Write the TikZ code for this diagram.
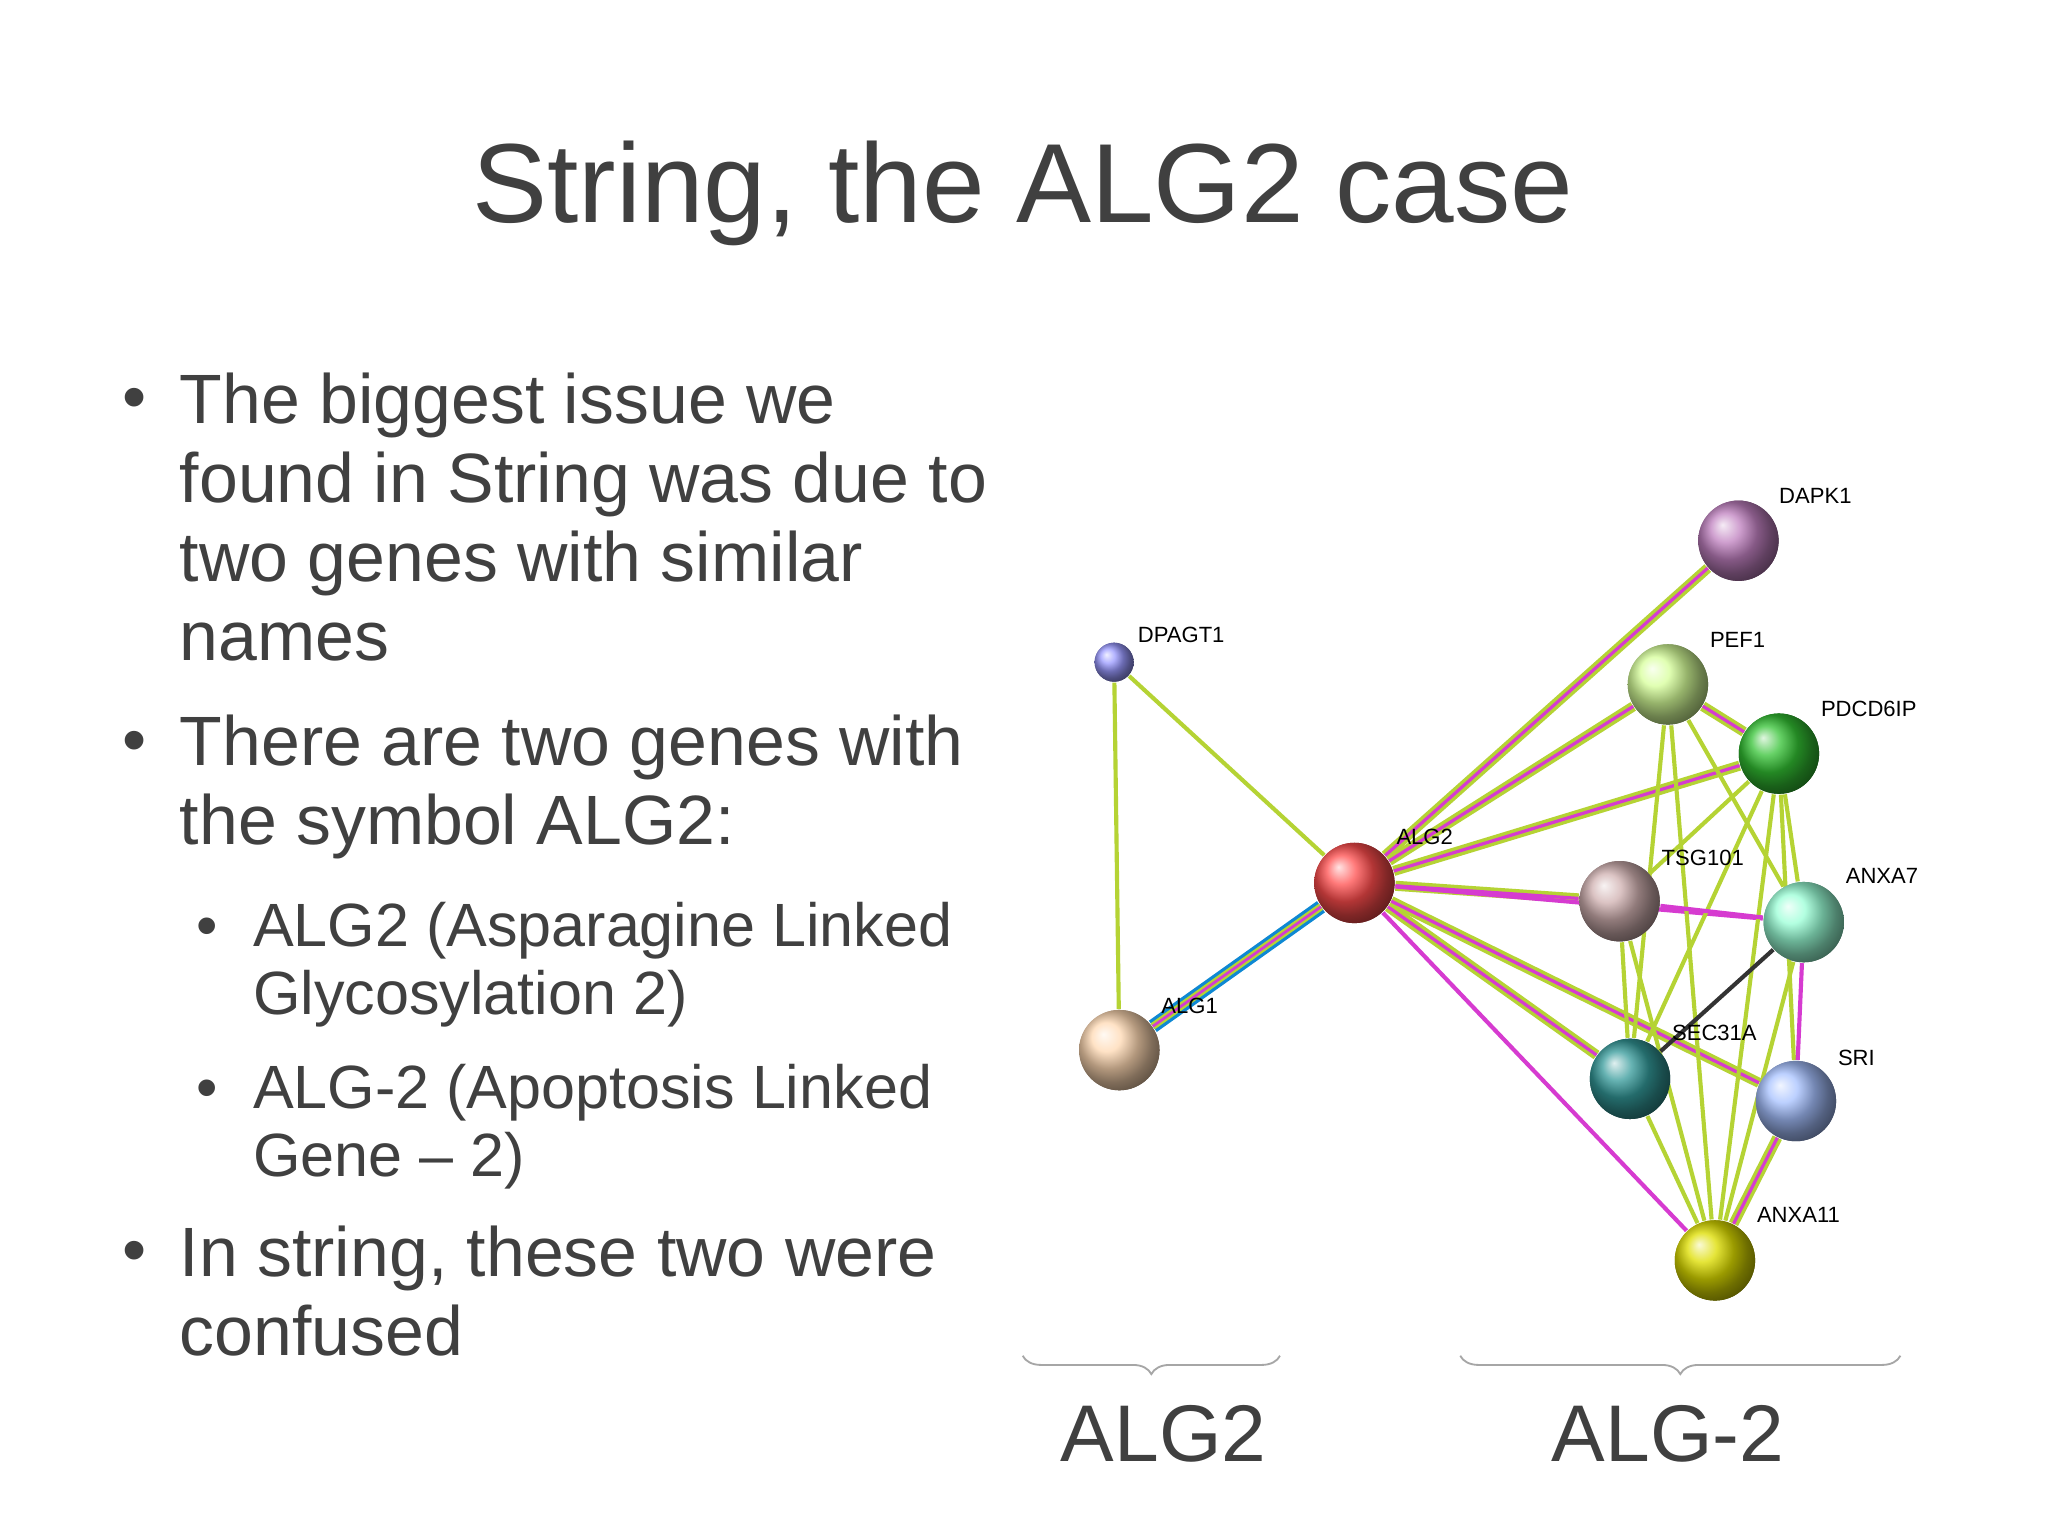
\documentclass[tikz,border=0pt]{standalone}
\usepackage{fontspec}
\setmainfont{Liberation Sans}
\usetikzlibrary{decorations.pathreplacing}
\definecolor{txt}{HTML}{404040}
\definecolor{lgreen}{HTML}{B5D334}
\definecolor{lmag}{HTML}{D63BD0}
\tikzset{
  prot/.style={circle, shading=ball, ball color=#1, minimum size=17.5pt, inner sep=0pt},
  lab/.style={font=\fontsize{4.8pt}{5pt}\selectfont, text=black, inner sep=1pt},
  txtb/.style={font=\fontsize{15.2pt}{17.2pt}\selectfont, text=txt, align=left, anchor=north west, inner sep=0pt},
  txts/.style={font=\fontsize{13.3pt}{14.9pt}\selectfont, text=txt, align=left, anchor=north west, inner sep=0pt},
  bul/.style={font=\fontsize{15pt}{17pt}\selectfont, text=txt, anchor=north west, inner sep=0pt},
  gr/.style={draw=lgreen, line width=0.9pt},
  mg/.style={draw=lmag, line width=0.9pt},
  both/.style={draw=lgreen, line width=2.2pt, postaction={draw=lmag, line width=0.7pt}},
}
\begin{document}
\begin{tikzpicture}[x=0.01cm, y=-0.01cm]
\useasboundingbox (0,0) rectangle (1568,1176);
\fill[white] (0,0) rectangle (1568,1176);
% title
\node (title) [font=\fontsize{24.5pt}{26pt}\selectfont, text=txt] at (783,148) {String, the ALG2 case};
% bullets
\node (b1) [bul] at (93,297) {•};
\node (t1) [txtb] at (137,285) {The biggest issue we\\found in String was due to\\two genes with similar\\names};
\node (b2) [bul] at (93,559) {•};
\node (t2) [txtb] at (137,547) {There are two genes with\\the symbol ALG2:};
\node (b3) [txts] at (150,702) {•};
\node (t3) [txts] at (193,690) {ALG2 (Asparagine Linked\\Glycosylation 2)};
\node (b4) [txts] at (150,826) {•};
\node (t4) [txts] at (193,814) {ALG-2 (Apoptosis Linked\\Gene – 2)};
\node (b5) [bul] at (93,950) {•};
\node (t5) [txtb] at (137,938) {In string, these two were\\confused};
% proteins
\node (dpagt) [prot=blue!40!white, minimum size=8.5pt] at (853,507) {};
\node (alg1) [prot=orange!30!white] at (857,804) {};
\node (alg2) [prot=red!70!white] at (1037,676) {};
\node (dapk) [prot=violet!50!white] at (1331,414) {};
\node (pef) [prot=green!40!yellow!40!white] at (1277,524) {};
\node (pdcd) [prot=green!70!black!80!white] at (1362,577) {};
\node (tsg) [prot=red!25!gray!50!white] at (1240,690) {};
\node (anxa7) [prot=green!40!cyan!40!white] at (1381,706) {};
\node (sec) [prot=teal!80!white] at (1248,826) {};
\node (sri) [prot=cyan!30!blue!35!white] at (1375,843) {};
\node (anxa11) [prot=yellow!70!olive!90!white] at (1313,965) {};
% links
\draw[gr] (dpagt) -- (alg1);
\draw[gr] (dpagt) -- (alg2);
\draw[draw=cyan!70!blue, line width=3pt, postaction={draw=lgreen, line width=1.6pt}, postaction={draw=lmag, line width=0.6pt}] (alg1) -- (alg2);
\draw[both] (alg2) -- (dapk);
\draw[both] (alg2) -- (pef);
\draw[both] (alg2) -- (pdcd);
\draw[both] (alg2) -- (tsg);
\draw[mg] (alg2) -- (anxa7);
\draw[both] (alg2) -- (sec);
\draw[both] (alg2) -- (sri);
\draw[mg] (alg2) -- (anxa11);
\draw[both] (pef) -- (pdcd);
\draw[gr] (pef) -- (anxa7);
\draw[gr] (pef) -- (sec);
\draw[gr] (pef) -- (anxa11);
\draw[gr] (pdcd) -- (tsg);
\draw[gr] (pdcd) -- (anxa7);
\draw[gr] (pdcd) -- (sec);
\draw[gr] (pdcd) -- (anxa11);
\draw[gr] (pdcd) -- (sri);
\draw[mg] (tsg) -- (anxa7);
\draw[gr] (tsg) -- (sec);
\draw[gr] (tsg) -- (anxa11);
\draw[draw=black!80, line width=0.9pt] (anxa7) -- (sec);
\draw[mg] (anxa7) -- (sri);
\draw[gr] (anxa7) -- (anxa11);
\draw[gr] (sec) -- (anxa11);
\draw[both] (sri) -- (anxa11);
% redraw balls on top
\foreach \n/\c/\s in {dpagt/blue!40!white/8.5pt, alg1/orange!30!white/17.5pt, alg2/red!70!white/17.5pt, dapk/violet!50!white/17.5pt, pef/green!40!yellow!40!white/17.5pt, pdcd/green!70!black!80!white/17.5pt, tsg/red!25!gray!50!white/17.5pt, anxa7/green!40!cyan!40!white/17.5pt, sec/teal!80!white/17.5pt, sri/cyan!30!blue!35!white/17.5pt, anxa11/yellow!70!olive!90!white/17.5pt}
  \node [prot=\c, minimum size=\s] at (\n) {};
% labels
\node (ldpagt) [lab, anchor=west] at (867,486) {DPAGT1};
\node (lalg1) [lab, anchor=west] at (885,770) {ALG1};
\node (lalg2) [lab, anchor=west] at (1065,641) {ALG2};
\node (ldapk) [lab, anchor=west] at (1358,380) {DAPK1};
\node (lpef) [lab, anchor=west] at (1305,490) {PEF1};
\node (lpdcd) [lab, anchor=west] at (1390,543) {PDCD6IP};
\node (ltsg) [lab, anchor=west] at (1268,657) {TSG101};
\node (lanxa7) [lab, anchor=west] at (1409,671) {ANXA7};
\node (lsec) [lab, anchor=west] at (1276,791) {SEC31A};
\node (lsri) [lab, anchor=west] at (1403,810) {SRI};
\node (lanxa11) [lab, anchor=west] at (1341,930) {ANXA11};
% braces
\coordinate (ba) at (783,1038);
\coordinate (bb) at (980,1038);
\coordinate (bc) at (1118,1038);
\coordinate (bd) at (1455,1038);
\draw[gray!70, decorate, decoration={brace, mirror, amplitude=4pt}] (ba) -- (bb);
\draw[gray!70, decorate, decoration={brace, mirror, amplitude=4pt}] (bc) -- (bd);
\node (galg2) [font=\fontsize{17.5pt}{20pt}\selectfont, text=txt] at (891,1098) {ALG2};
\node (galg-2) [font=\fontsize{17.5pt}{20pt}\selectfont, text=txt] at (1277,1098) {ALG-2};
\end{tikzpicture}
\end{document}
